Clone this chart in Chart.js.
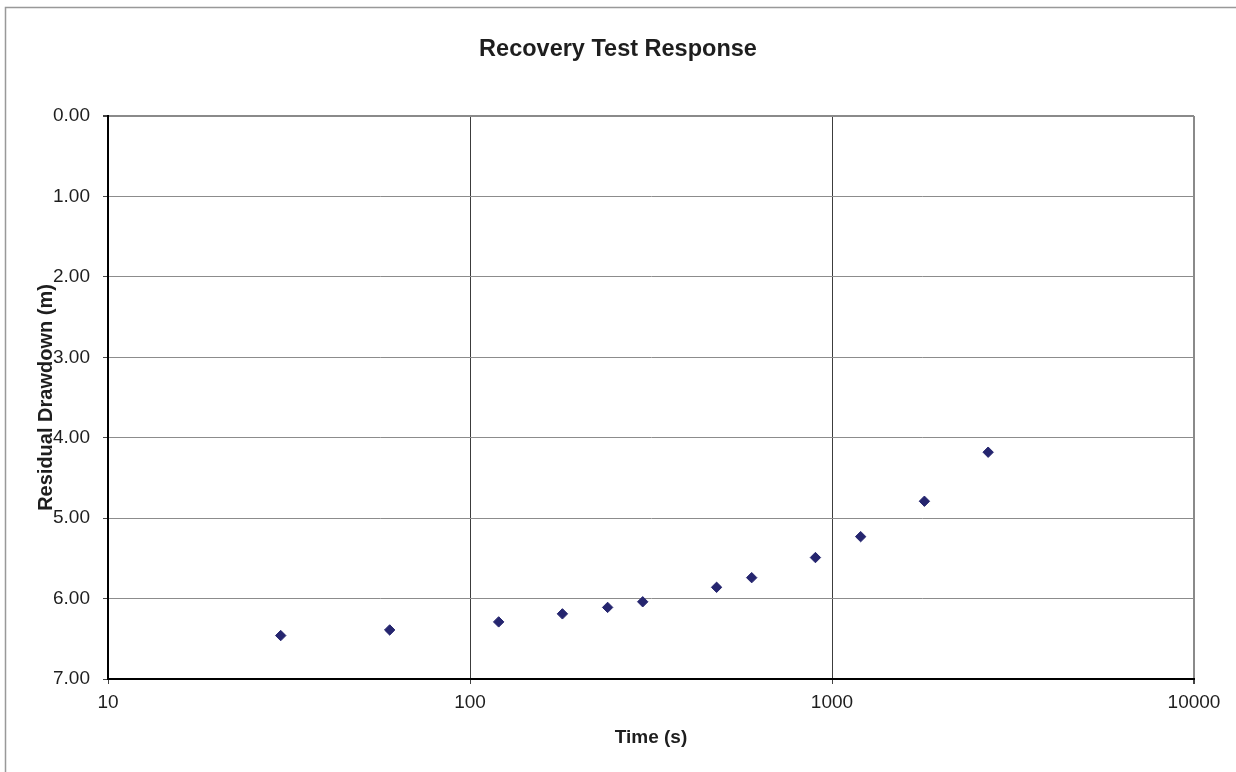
<!DOCTYPE html>
<html>
<head>
<meta charset="utf-8">
<title>Recovery Test Response</title>
<script src="https://cdn.jsdelivr.net/npm/chart.js@4/dist/chart.umd.min.js"></script>
<style>
  html, body { margin: 0; padding: 0; background: #fff; }
  #wrap { width: 1236px; height: 772px; }
</style>
</head>
<body>
<div id="wrap"><canvas id="recoveryChart" width="1236" height="772"></canvas></div>
<script>
// elapsed time since pumping stopped (s) and residual drawdown (m)
const times = [30, 60, 120, 180, 240, 300, 480, 600, 900, 1200, 1800, 2700];
const drawdown = [6.46, 6.39, 6.29, 6.19, 6.11, 6.04, 5.86, 5.74, 5.49, 5.23, 4.79, 4.18];

const xTicks = [10, 100, 1000, 10000];
const yTicks = [0, 1, 2, 3, 4, 5, 6, 7];

const FONT = "'Liberation Sans', Arial, sans-serif";
const TEXT = '#1e1e1e';

// thin grey frame round the whole chart, as in the spreadsheet export
const framePlugin = {
  id: 'frame',
  beforeDraw(chart) {
    const ctx = chart.ctx;
    ctx.save();
    ctx.fillStyle = '#fff';
    ctx.fillRect(0, 0, chart.width, chart.height);
    ctx.strokeStyle = '#999';
    ctx.lineWidth = 1.5;
    ctx.strokeRect(5.5, 7.5, chart.width + 20, chart.height + 20);
    ctx.restore();
  }
};

(function () {
  const canvas = document.getElementById('recoveryChart');
  if (!canvas || typeof Chart === 'undefined') {
    return;
  }

  const points = times.map((t, i) => ({ x: t, y: drawdown[i] }));

  new Chart(canvas, {
    type: 'scatter',
    data: {
      datasets: [{
        label: 'Residual drawdown',
        data: points,
        pointStyle: 'rectRot',
        pointRadius: 5.2,
        pointBorderWidth: 1,
        backgroundColor: '#25256f',
        borderColor: '#25256f',
        showLine: false
      }]
    },
    options: {
      responsive: false,
      animation: false,
      layout: {
        padding: 0
      },
      plugins: {
        legend: { display: false },
        tooltip: { enabled: false },
        title: {
          display: true,
          text: 'Recovery Test Response',
          color: TEXT,
          font: { family: FONT, size: 23.5, weight: 'bold', lineHeight: 1.2 },
          padding: { top: 35, bottom: 52.8 }
        }
      },
      scales: {
        x: {
          type: 'logarithmic',
          position: 'bottom',
          min: 10,
          max: 10000,
          afterBuildTicks(scale) {
            scale.ticks = xTicks.map(v => ({ value: v }));
          },
          afterFit(scale) {
            scale.height = 93;
          },
          ticks: {
            color: TEXT,
            font: { family: FONT, size: 19 },
            padding: 7,
            maxRotation: 0,
            autoSkip: false,
            callback: v => String(v)
          },
          grid: {
            color: c => (c.tick && c.tick.value === 10000) ? '#8a8a8a' : '#3c3c3c',
            lineWidth: c => (c.tick && c.tick.value === 10000) ? 2 : 1,
            tickColor: '#444',
            tickLength: 5
          },
          border: { color: '#000', width: 2 },
          title: {
            display: true,
            text: 'Time (s)',
            color: TEXT,
            font: { family: FONT, size: 19, weight: 'bold', lineHeight: 1.2 },
            padding: { top: 4, bottom: 23 }
          }
        },
        y: {
          type: 'linear',
          position: 'left',
          reverse: true,
          min: 0,
          max: 7,
          afterBuildTicks(scale) {
            scale.ticks = yTicks.map(v => ({ value: v }));
          },
          afterFit(scale) {
            scale.width = 108;
          },
          ticks: {
            color: TEXT,
            font: { family: FONT, size: 19 },
            padding: 13,
            callback: v => Number(v).toFixed(2)
          },
          grid: {
            color: c => (c.tick && c.tick.value === 0) ? '#8a8a8a' : '#8c8c8c',
            lineWidth: c => (c.tick && c.tick.value === 0) ? 2 : 1,
            tickColor: '#444',
            tickLength: 5
          },
          border: { color: '#000', width: 2 },
          title: {
            display: true,
            text: 'Residual Drawdown (m)',
            color: TEXT,
            font: { family: FONT, size: 20, weight: 'bold', lineHeight: 1.2 },
            padding: { top: 34, bottom: 4 }
          }
        },
        // empty right-hand strip so the plot ends where the original does
        gap: {
          type: 'linear',
          position: 'right',
          display: true,
          afterFit(scale) {
            scale.width = 42;
          },
          ticks: { display: false },
          grid: { display: false, drawTicks: false },
          border: { display: false }
        }
      }
    },
    plugins: [framePlugin]
  });
})();
</script>
</body>
</html>
